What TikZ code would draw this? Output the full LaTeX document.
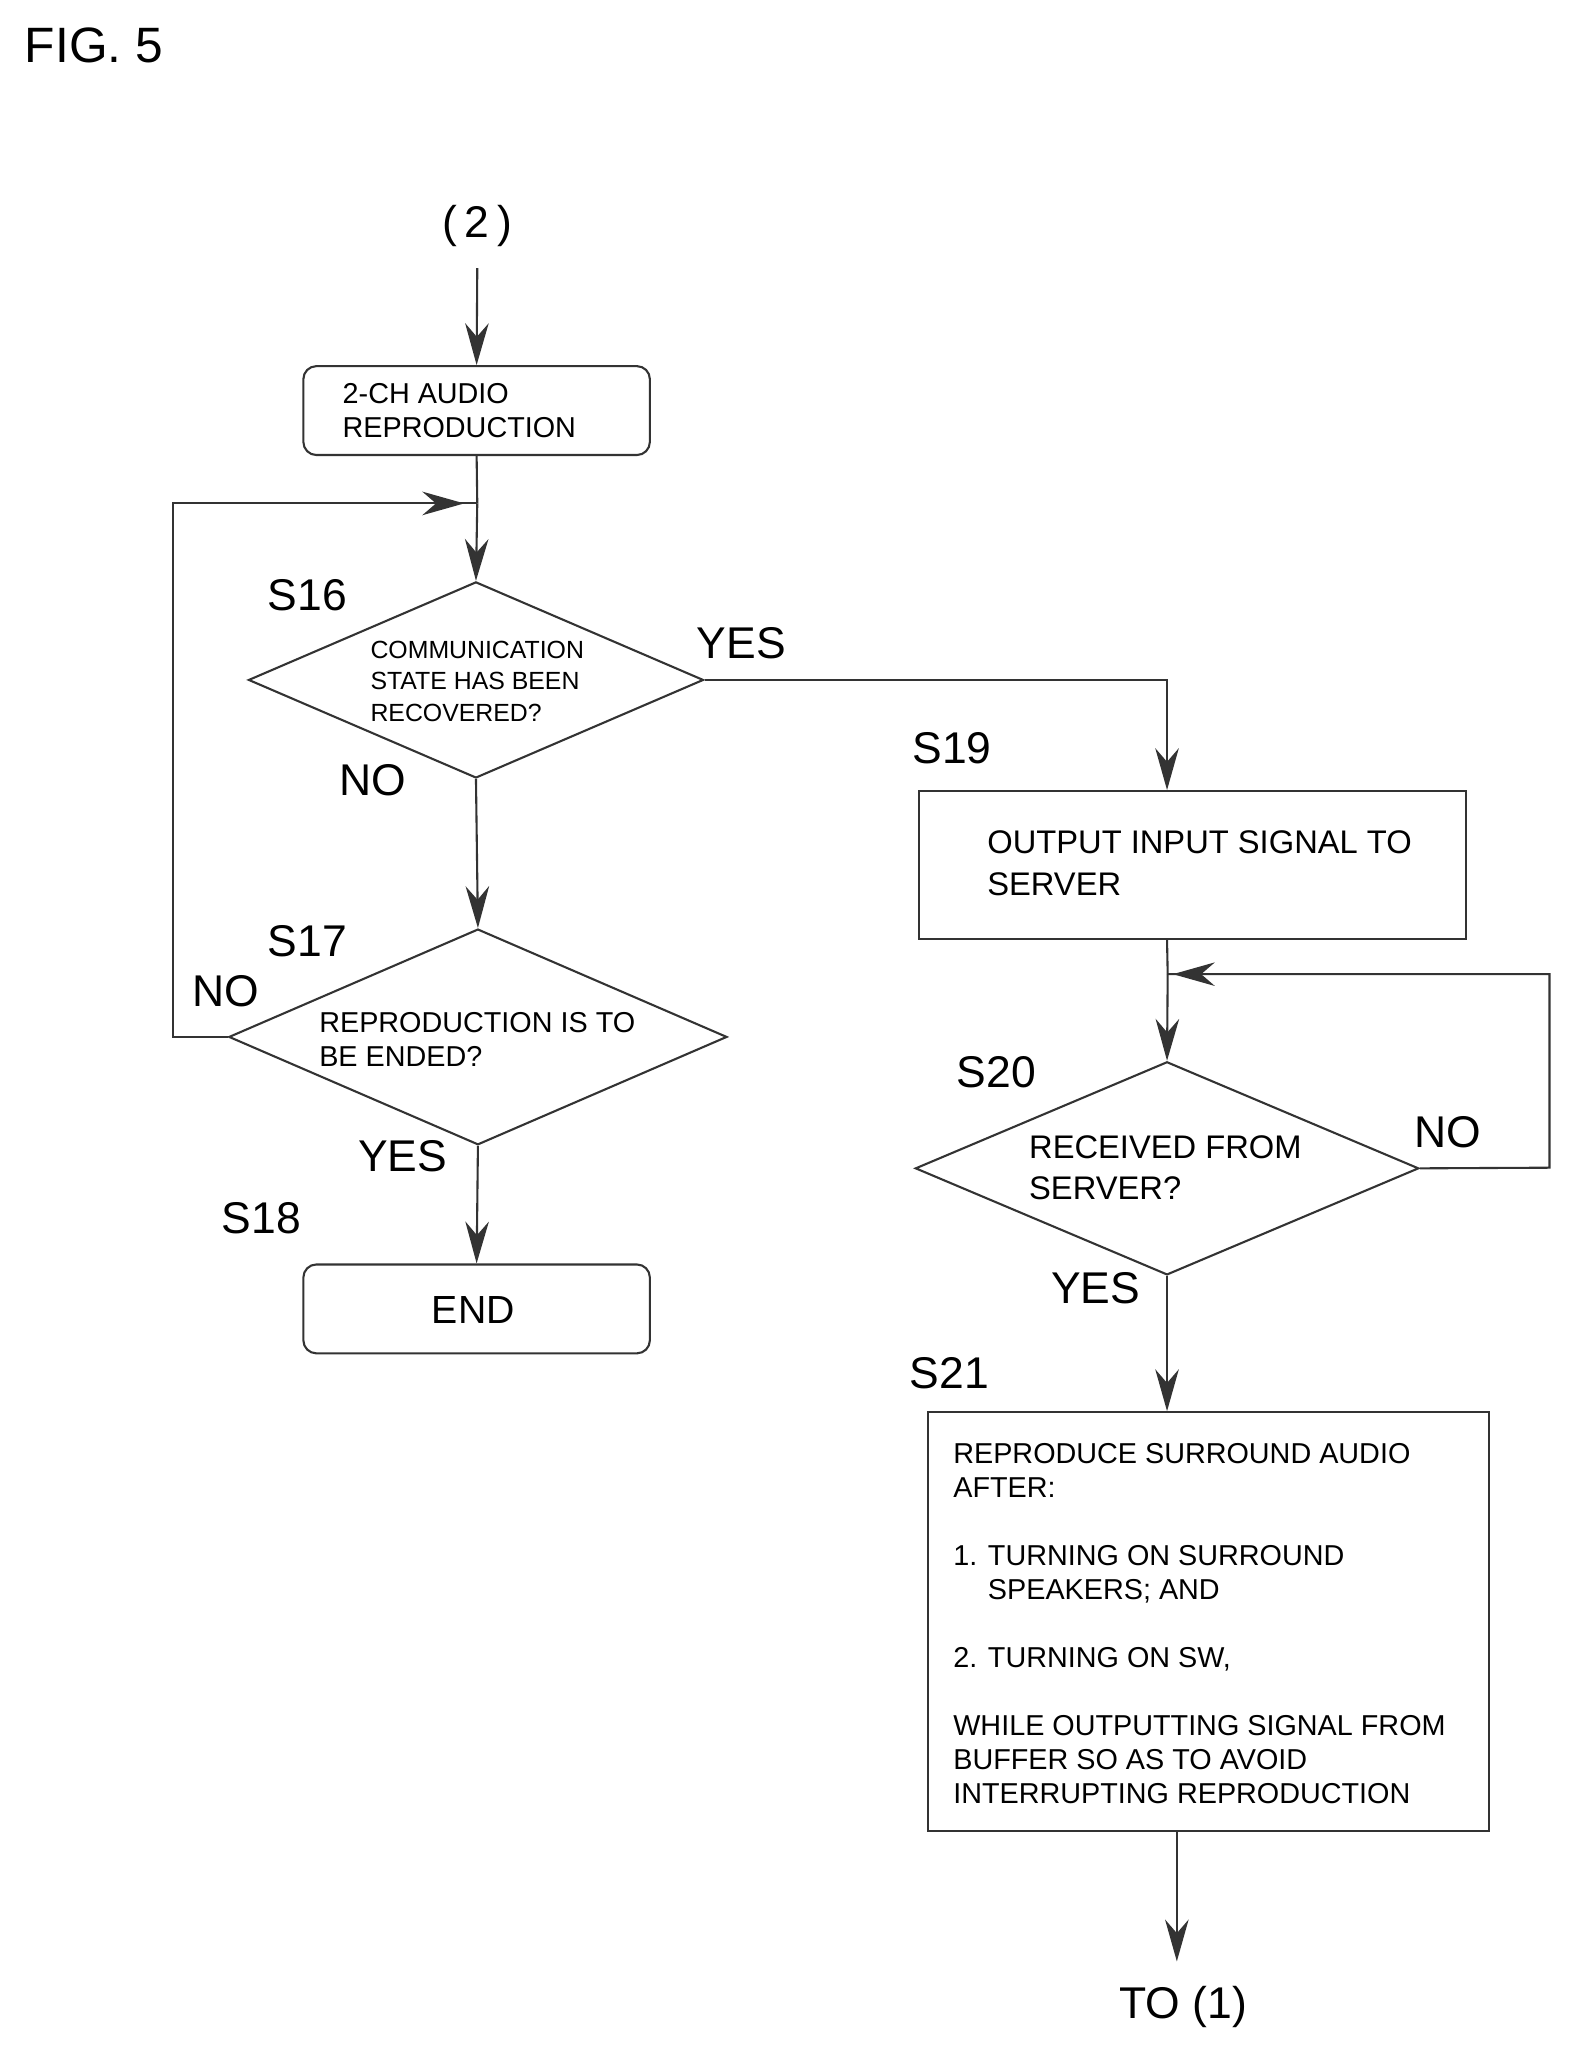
\documentclass[tikz,border=0pt]{standalone}
\usepackage{fontspec}
\setmainfont{Liberation Sans}
\usetikzlibrary{shapes.geometric,arrows.meta}
\begin{document}
\begin{tikzpicture}[x=0.5pt,y=-0.5pt,
  line/.style={draw=black!80,line width=0.8pt},
  arr/.style={line,-{Stealth[length=16pt,width=9pt]}},
  box/.style={draw=black!80,line width=0.8pt,inner sep=0pt},
  lab/.style={font=\fontsize{17}{17}\selectfont},
  txt/.style={font=\fontsize{11}{13}\selectfont,align=left},
  dia/.style={diamond,draw=black!80,line width=0.8pt,inner sep=0pt}]
\useasboundingbox (0,0) rectangle (1200,1567);
\node[font=\fontsize{19}{19}\selectfont,anchor=west] (fig) at (12,35) {FIG. 5};
\node[lab] (two) at (365,173) {(\,2\,)};
\node[box,rounded corners=5pt,minimum width=132.5pt,minimum height=34pt] (b1) at (364.5,314) {};
\node[txt,anchor=west] (b1t) at (255,314) {2-CH AUDIO\\REPRODUCTION};
\node[dia,minimum width=174pt,minimum height=75pt] (s16) at (364,520) {};
\node[font=\fontsize{9.5}{12}\selectfont,align=left] (s16t) at (365,521) {COMMUNICATION\\STATE HAS BEEN\\RECOVERED?};
\node[dia,minimum width=190.5pt,minimum height=82.5pt] (s17) at (365.5,793) {};
\node[txt] (s17t) at (365,795) {REPRODUCTION IS TO\\BE ENDED?};
\node[box,rounded corners=5pt,minimum width=132.5pt,minimum height=34pt] (end) at (364.5,1001) {};
\node[font=\fontsize{15}{15}\selectfont] (endt) at (362,1002) {END};
\node[box,minimum width=209pt,minimum height=56.5pt] (s19) at (912,661.5) {};
\node[font=\fontsize{12.5}{16}\selectfont,align=left,anchor=west] (s19t) at (748,660) {OUTPUT INPUT SIGNAL TO\\SERVER};
\node[dia,minimum width=192.5pt,minimum height=81.5pt] (s20) at (892.5,893.5) {};
\node[font=\fontsize{12.5}{16}\selectfont,align=left,anchor=west] (s20t) at (780,893) {RECEIVED FROM\\SERVER?};
\node[box,minimum width=214.5pt,minimum height=160pt] (s21) at (924.5,1240) {};
\node[font=\fontsize{11}{13}\selectfont,align=left,anchor=north west] (s21t) at (722,1097) {REPRODUCE SURROUND AUDIO\\AFTER:\\[13pt]1. TURNING ON SURROUND\\\hphantom{1. }SPEAKERS; AND\\[13pt]2. TURNING ON SW,\\[13pt]WHILE OUTPUTTING SIGNAL FROM\\BUFFER SO AS TO AVOID\\INTERRUPTING REPRODUCTION};
\node[lab] (to1) at (905,1535) {TO (1)};
\node[lab] at (235,455) {S16};
\node[lab] at (567,492) {YES};
\node[lab] at (285,597) {NO};
\node[lab] at (235,720) {S17};
\node[lab] at (173,758) {NO};
\node[lab] at (308,884) {YES};
\node[lab] at (200,932) {S18};
\node[lab] at (728,572) {S19};
\node[lab] at (762,820) {S20};
\node[lab] at (1107,866) {NO};
\node[lab] at (838,985) {YES};
\node[lab] at (726,1050) {S21};
\coordinate (top) at (365,205);
\coordinate (j1) at (365,385);
\coordinate (j2) at (893,745);
\coordinate (bot) at (900,1500);
\draw[arr] (top) -- (b1.north);
\draw[line] (b1.south) -- (j1);
\draw[arr] (j1) -- (s16.north);
\draw[arr] (s16.east) -| (s19.north -| s20.north);
\draw[arr] (s16.south) -- (s17.north);
\draw[line] (s17.west) -- (132,793) -- (132,385) -- (j1);
\draw[arr] (132,385) -- (355,385);
\draw[arr] (s17.south) -- (end.north);
\draw[line] (s20.north |- s19.south) -- (j2);
\draw[arr] (j2) -- (s20.north);
\draw[line] (s20.east) -- (1185,893) -- (1185,745) -- (j2);
\draw[arr] (1185,745) -- (897,745);
\draw[arr] (s20.south) -- (s20.south |- s21.north);
\draw[arr] (s21.south -| bot) -- (bot);
\end{tikzpicture}
\end{document}
